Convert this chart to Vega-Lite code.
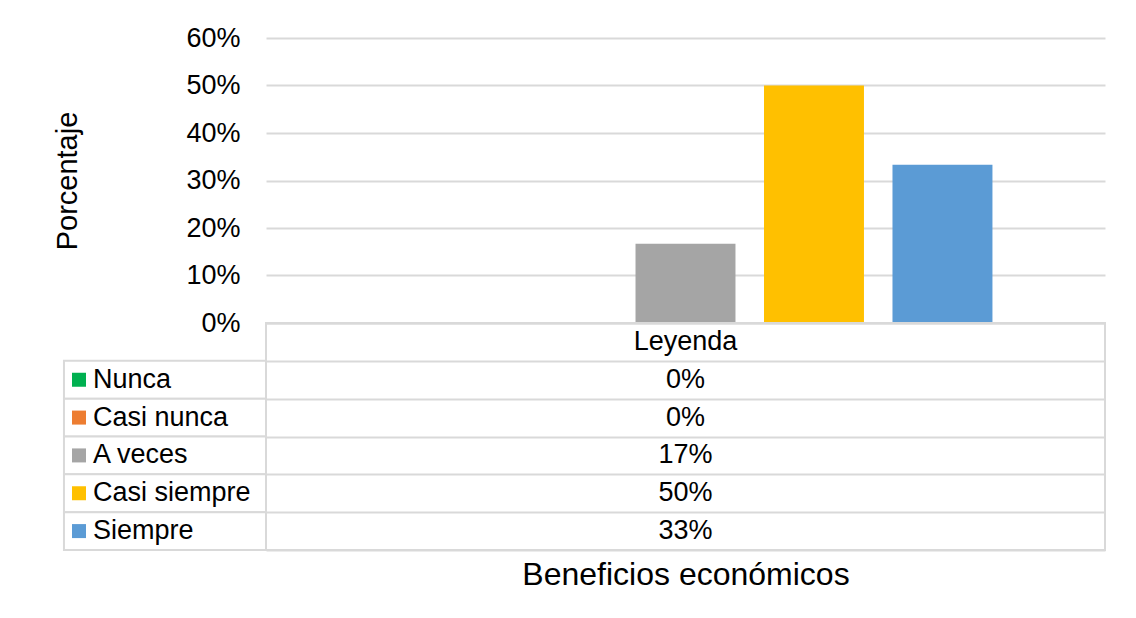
{
  "$schema": "https://vega.github.io/schema/vega-lite/v6.json",
  "padding": {"left": 53, "top": 24, "right": 0, "bottom": 0},
  "background": "white",
  "config": {"font": "Liberation Sans", "view": {"stroke": null}},
  "datasets": {
    "datos": [
      {"categoria": "Nunca", "porcentaje": 0},
      {"categoria": "Casi nunca", "porcentaje": 0},
      {"categoria": "A veces", "porcentaje": 0.1667},
      {"categoria": "Casi siempre", "porcentaje": 0.5},
      {"categoria": "Siempre", "porcentaje": 0.3333}
    ],
    "encabezado": [{"categoria": "Leyenda"}]
  },
  "spacing": 0,
  "bounds": "flush",
  "vconcat": [
    {
      "width": 839,
      "height": 285,
      "data": {"name": "datos"},
      "mark": {"type": "bar"},
      "encoding": {
        "x": {
          "field": "categoria",
          "type": "nominal",
          "sort": ["Nunca", "Casi nunca", "A veces", "Casi siempre", "Siempre"],
          "scale": {"paddingInner": 0.222, "paddingOuter": 0.876},
          "axis": null
        },
        "y": {
          "field": "porcentaje",
          "type": "quantitative",
          "scale": {"domain": [0, 0.6], "nice": false},
          "axis": {
            "values": [0, 0.1, 0.2, 0.3, 0.4, 0.5, 0.6],
            "format": ".0%",
            "title": "Porcentaje",
            "grid": true,
            "gridColor": "#d9d9d9",
            "gridWidth": 2,
            "domain": false,
            "ticks": false,
            "labelFontSize": 27,
            "labelColor": "#000000",
            "labelPadding": 26,
            "titleFontSize": 29,
            "titleFontWeight": "normal",
            "titleColor": "#000000",
            "titlePadding": 103
          }
        },
        "color": {
          "field": "categoria",
          "type": "nominal",
          "scale": {
            "domain": ["Nunca", "Casi nunca", "A veces", "Casi siempre", "Siempre"],
            "range": ["#00B050", "#ED7D31", "#A5A5A5", "#FFC000", "#5B9BD5"]
          },
          "legend": null
        }
      }
    },
    {
      "width": 839,
      "height": 227,
      "view": {"stroke": "#d9d9d9", "strokeWidth": 2},
      "encoding": {
        "y": {
          "field": "categoria",
          "type": "nominal",
          "scale": {
            "domain": ["Leyenda", "Nunca", "Casi nunca", "A veces", "Casi siempre", "Siempre"],
            "paddingInner": 0,
            "paddingOuter": 0
          },
          "axis": {
            "labels": false,
            "ticks": false,
            "domain": false,
            "grid": true,
            "tickBand": "extent",
            "gridColor": "#d9d9d9",
            "gridWidth": 2,
            "title": null
          }
        }
      },
      "layer": [
        {
          "data": {"name": "datos"},
          "mark": {"type": "rect", "fill": "white", "stroke": "#d9d9d9", "strokeWidth": 2},
          "encoding": {
            "x": {
              "datum": -24.08,
              "type": "quantitative",
              "scale": {"domain": [0, 100], "nice": false, "zero": false},
              "axis": {
                "title": "Beneficios económicos",
                "labels": false,
                "ticks": false,
                "domain": false,
                "grid": false,
                "titleFontSize": 32,
                "titleFontWeight": "normal",
                "titleColor": "#000000",
                "titlePadding": 9
              }
            },
            "x2": {"datum": 0}
          }
        },
        {
          "data": {"name": "encabezado"},
          "mark": {"type": "text", "fontSize": 27, "color": "#000000"},
          "encoding": {"text": {"field": "categoria"}}
        },
        {
          "data": {"name": "datos"},
          "mark": {"type": "text", "fontSize": 27, "color": "#000000"},
          "encoding": {"text": {"field": "porcentaje", "type": "quantitative", "format": ".0%"}}
        },
        {
          "data": {"name": "datos"},
          "mark": {"type": "point", "shape": "square", "filled": true, "size": 196, "opacity": 1},
          "encoding": {
            "x": {"datum": -22.29, "type": "quantitative"},
            "color": {
              "field": "categoria",
              "type": "nominal",
              "scale": {
                "domain": ["Nunca", "Casi nunca", "A veces", "Casi siempre", "Siempre"],
                "range": ["#00B050", "#ED7D31", "#A5A5A5", "#FFC000", "#5B9BD5"]
              },
              "legend": null
            }
          }
        },
        {
          "data": {"name": "datos"},
          "mark": {"type": "text", "fontSize": 27, "color": "#000000", "align": "left"},
          "encoding": {
            "x": {"datum": -20.62, "type": "quantitative"},
            "text": {"field": "categoria"}
          }
        }
      ]
    }
  ]
}
